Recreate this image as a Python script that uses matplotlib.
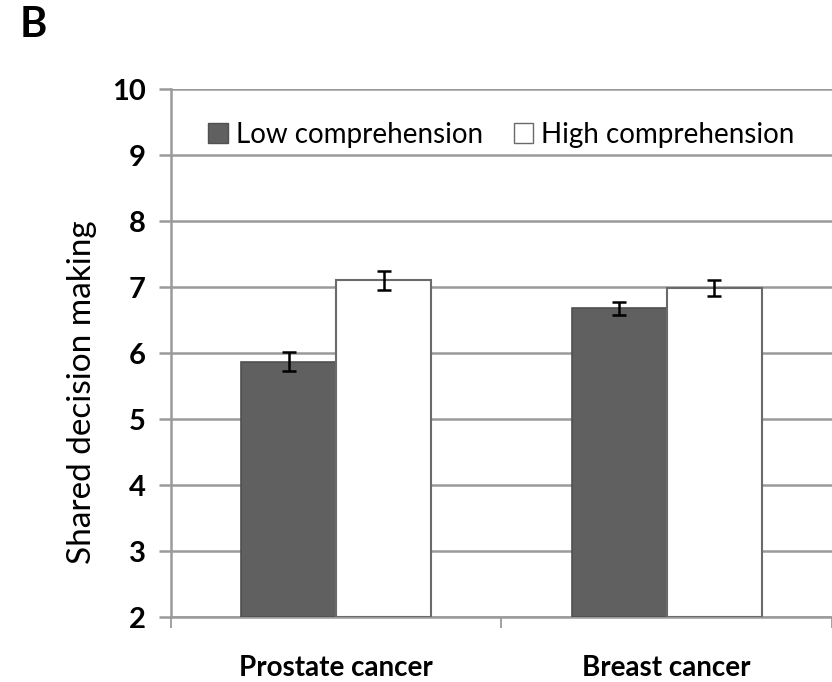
import numpy as np
import matplotlib.pyplot as plt
from matplotlib.patches import Patch

# ----- Data -----
categories = ["Prostate cancer", "Breast cancer"]
low_mean = [5.87, 6.68]
low_err = [0.15, 0.10]
high_mean = [7.10, 6.99]
high_err = [0.14, 0.12]
series_names = ["Low comprehension", "High comprehension"]

plt.rcParams['font.family'] = ['Lato', 'DejaVu Sans']

fig = plt.figure(figsize=(8.32, 6.82), dpi=100)
ax = fig.add_axes([0.2055, 0.0953, 0.7945, 0.7742])

x = np.arange(len(categories))
w = 0.287
grid_c = '#9a9a9a'

ax.bar(x - w / 2, np.array(low_mean) - 2, w, bottom=2, color='#606060',
       edgecolor='#505050', linewidth=1.2, zorder=3)
ax.bar(x + w / 2, np.array(high_mean) - 2, w, bottom=2, color='white',
       edgecolor='#6a6a6a', linewidth=1.5, zorder=3)
ax.errorbar(x - w / 2, low_mean, yerr=low_err, fmt='none', ecolor='black',
            elinewidth=1.8, capsize=5, capthick=1.8, zorder=4)
ax.errorbar(x + w / 2, high_mean, yerr=high_err, fmt='none', ecolor='black',
            elinewidth=1.8, capsize=5, capthick=1.8, zorder=4)

ax.set_xlim(-0.5, 1.5)
ax.set_ylim(2, 10)
ax.set_yticks(range(2, 11))
ax.yaxis.grid(True, color=grid_c, linewidth=1.8, zorder=1)
ax.set_axisbelow(True)

# category boundaries get the tick marks, names sit between them
ax.set_xticks([-0.5, 0.5, 1.5])
ax.set_xticklabels([])
ax.set_xticks(x, minor=True)
ax.set_xticklabels(categories, minor=True, fontsize=20, fontweight='bold')
ax.tick_params(axis='x', which='major', length=8, width=1.3, color=grid_c, direction='out')
ax.tick_params(axis='x', which='minor', length=0, pad=27)
ax.tick_params(axis='y', length=9, width=1.8, color=grid_c, pad=9, labelsize=21)
for lab in ax.get_yticklabels():
    lab.set_fontweight('bold')

for side in ['top', 'right']:
    ax.spines[side].set_visible(False)
for side in ['left', 'bottom']:
    ax.spines[side].set_color(grid_c)
    ax.spines[side].set_linewidth(1.8)

ax.set_ylabel("Shared decision making", fontsize=24)
ax.yaxis.set_label_coords(-0.112, 0.425)

handles = [Patch(facecolor='#606060', edgecolor='#505050'),
           Patch(facecolor='white', edgecolor='#6a6a6a')]
ax.legend(handles, series_names, loc='upper center', bbox_to_anchor=(0.5, 0.975),
          ncol=2, frameon=True, edgecolor='none', facecolor='white', framealpha=1,
          fontsize=20, handlelength=0.7, handleheight=0.7, handletextpad=0.3,
          columnspacing=1.1, borderpad=0.2)

fig.text(0.024, 0.963, "B", fontsize=30, fontweight='bold', va='center')

fig.savefig("out.png", dpi=100)
